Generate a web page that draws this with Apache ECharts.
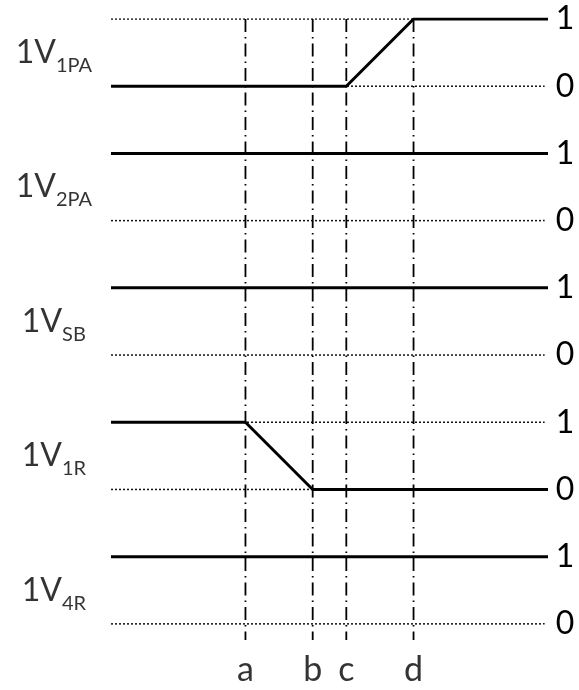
<!DOCTYPE html>
<html>
<head>
<meta charset="utf-8">
<script src="https://cdn.jsdelivr.net/npm/echarts@6/dist/echarts.min.js"></script>
<style>
  html, body { margin: 0; padding: 0; background: #fff; }
  #chart { width: 579px; height: 690px; }
</style>
</head>
<body>
<div id="chart"></div>
<script>
// signal rows, top to bottom
const rowSubs = ["1PA", "2PA", "SB", "1R", "4R"];
const rowBases = [8, 6, 4, 2, 0];
const levelLabels = ["0", "1"];

// time marks
const markNames = ["a", "b", "c", "d"];
const markTimes = [4, 6, 7, 9];

// signal traces [time, level]
const sig1PA = [[0, 0], [7, 0], [9, 1], [13, 1]];
const sig2PA = [[0, 1], [13, 1]];
const sigSB = [[0, 1], [13, 1]];
const sig1R = [[0, 1], [4, 1], [6, 0], [13, 0]];
const sig4R = [[0, 1], [13, 1]];
const signals = [sig1PA, sig2PA, sigSB, sig1R, sig4R];

const tEnd = 13;
const dotEnd = 12.9;
const yMin = -0.24;
const yMax = 9;
const labelX = -1.7;

const FONT = "Lato";
const chart = echarts.init(document.getElementById("chart"));

const series = [];

// dotted reference levels + right side labels
rowBases.forEach((base) => {
  [0, 1].forEach((lvl) => {
    series.push({
      type: "line",
      silent: true,
      symbol: "none",
      z: 1,
      data: [[0, base + lvl], [dotEnd, base + lvl]],
      lineStyle: { color: "#111", width: 1.5, type: [2, 2] },
      endLabel: {
        show: true,
        formatter: levelLabels[lvl],
        distance: 11,
        color: "#000",
        fontFamily: FONT,
        fontSize: 32,
      },
    });
  });
});

// dash-dot time markers
markTimes.forEach((t) => {
  series.push({
    type: "line",
    silent: true,
    symbol: "none",
    z: 2,
    data: [[t, yMax], [t, yMin]],
    lineStyle: { color: "#000", width: 1.8, type: [13, 5, 1.5, 5] },
  });
});

// signal traces
signals.forEach((sig, i) => {
  series.push({
    type: "line",
    silent: true,
    symbol: "none",
    z: 3,
    data: sig.map((p) => [p[0], p[1] + rowBases[i]]),
    lineStyle: { color: "#000", width: 3 },
  });
});

// left row names
series.push({
  type: "scatter",
  silent: true,
  clip: false,
  symbolSize: 0,
  data: rowBases.map((b) => [labelX, b + 0.5]),
  label: {
    show: true,
    position: "inside",
    formatter: (p) => "{m|1V}{s|" + rowSubs[p.dataIndex] + "}",
    rich: {
      m: { fontFamily: FONT, fontSize: 32, color: "#000", lineHeight: 46 },
      s: { fontFamily: FONT, fontSize: 20, color: "#000", lineHeight: 20, verticalAlign: "bottom" },
    },
  },
});

// bottom time labels
series.push({
  type: "scatter",
  silent: true,
  clip: false,
  symbolSize: 0,
  data: markTimes.map((t) => [t, yMin]),
  label: {
    show: true,
    position: "bottom",
    distance: 13,
    formatter: (p) => markNames[p.dataIndex],
    fontFamily: FONT,
    fontSize: 34,
    color: "#000",
  },
});

chart.setOption({
  animation: false,
  backgroundColor: "#fff",
  grid: { left: 111, right: 31, top: 19, bottom: 50 },
  xAxis: { type: "value", min: 0, max: tEnd, show: false },
  yAxis: { type: "value", min: yMin, max: yMax, show: false },
  series: series,
});
</script>
</body>
</html>
